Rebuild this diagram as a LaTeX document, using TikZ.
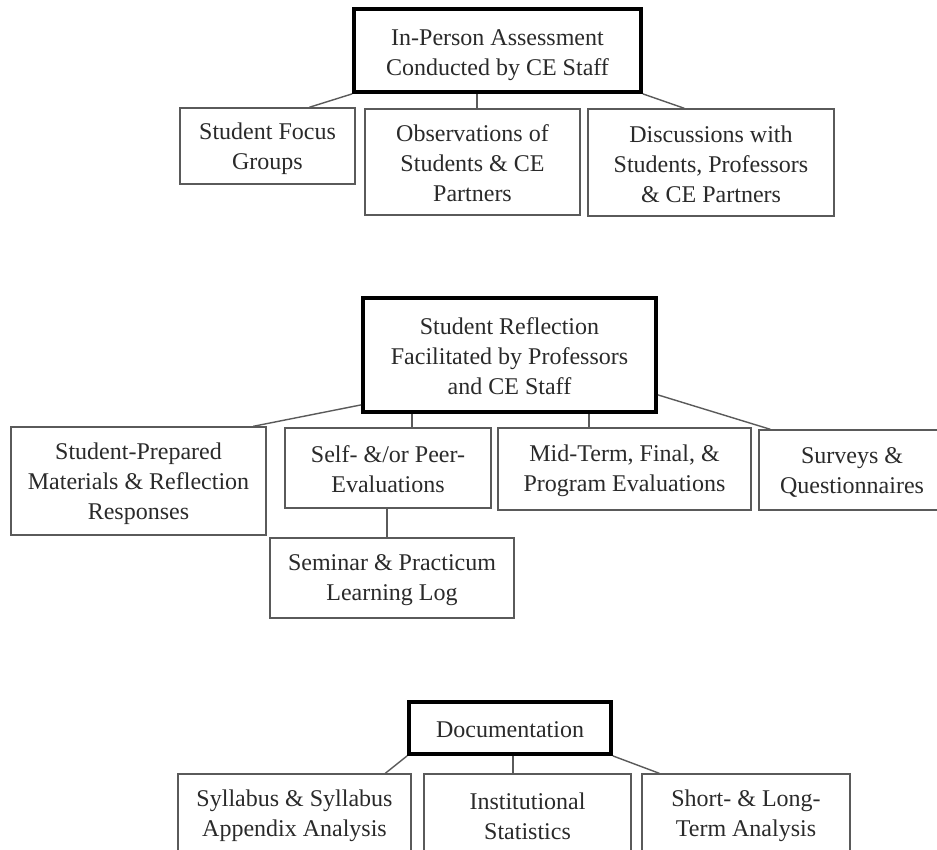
\documentclass[tikz,border=0pt]{standalone}
\usepackage{fontspec}
\setmainfont{Liberation Serif}
\usetikzlibrary{calc}
\definecolor{boxgray}{HTML}{5A5A5A}
\definecolor{txt}{HTML}{2A2A2A}
\newcommand\pbox[7][]{%
  \node[box,#1,minimum width={(#5-#3)*0.5pt},minimum height={(#6-#4)*0.5pt}]
    (#2) at ({(#3+#5)/2},{(#4+#6)/2}) {\rule{0pt}{10pt}#7};}
\begin{document}
\begin{tikzpicture}[x=0.5pt,y=-0.5pt,
  box/.style={draw=boxgray,line width=0.7pt,inner sep=0pt,align=center,
    text=txt,font=\fontsize{12}{15}\selectfont},
  thick box/.style={draw=black,line width=1.9pt},
  conn/.style={draw=boxgray,line width=0.7pt}]
\useasboundingbox (0,0) rectangle (937,850);
\fill[white] (0,0) rectangle (937,850);
\clip (0,0) rectangle (937,850);
% ---------- row 1
\pbox[thick box]{t1}{354}{9}{641}{92}{\rule{0pt}{13pt}In-Person Assessment\\Conducted by CE Staff}
\pbox{sfg}{180}{108}{355}{184}{\rule{0pt}{11.5pt}Student Focus\\Groups}
\pbox{obs}{365}{109}{580}{215}{Observations of\\Students \& CE\\Partners}
\pbox{disc}{588}{109}{834}{216}{Discussions with\\Students, Professors\\\& CE Partners}
\draw[conn] (t1.south west) -- ($(sfg.north west)+(130,0)$);
\draw[conn] ($(obs.north)+(4.5,0)$) coordinate (o1) -- (o1 |- t1.south);
\draw[conn] (t1.south east) -- ($(disc.north west)+(97,0)$);
% ---------- row 2
\pbox[thick box]{t2}{363}{298}{656}{412}{Student Reflection\\Facilitated by Professors\\and CE Staff}
\pbox{sp}{11}{427}{266}{535}{\rule{0pt}{11.5pt}Student-Prepared\\Materials \& Reflection\\Responses}
\pbox{self}{285}{428}{491}{508}{Self- \&/or Peer-\\Evaluations}
\pbox{mid}{498}{428}{751}{510}{Mid-Term, Final, \&\\Program Evaluations}
\pbox{surv}{759}{430}{945}{510}{Surveys \&\\Questionnaires}
\pbox{sem}{270}{538}{514}{618}{Seminar \& Practicum\\Learning Log}
\draw[conn] ($(t2.south west)+(0,-9)$) -- ($(sp.north west)+(243,0)$);
\draw[conn] ($(self.north)+(24,0)$) coordinate (s1) -- (s1 |- t2.south);
\draw[conn] ($(mid.north)+(-35.5,0)$) coordinate (m1) -- (m1 |- t2.south);
\draw[conn] ($(t2.south east)+(0,-19)$) -- ($(surv.north west)+(12,0)$);
\draw[conn] ($(self.south)+(-1,0)$) coordinate (s2) -- (s2 |- sem.north);
% ---------- row 3
\pbox[thick box]{t3}{409}{702}{611}{754}{Documentation}
\pbox{syl}{178}{774}{411}{855}{Syllabus \& Syllabus\\Appendix Analysis}
\pbox{inst}{424}{774}{631}{855}{Institutional\\Statistics}
\pbox{short}{642}{774}{850}{855}{Short- \& Long-\\Term Analysis}
\draw[conn] (t3.south west) -- ($(syl.north west)+(208,0)$);
\draw[conn] ($(t3.south)+(3,0)$) coordinate (d1) -- (d1 |- inst.north);
\draw[conn] (t3.south east) -- ($(short.north west)+(18,0)$);
\end{tikzpicture}
\end{document}
